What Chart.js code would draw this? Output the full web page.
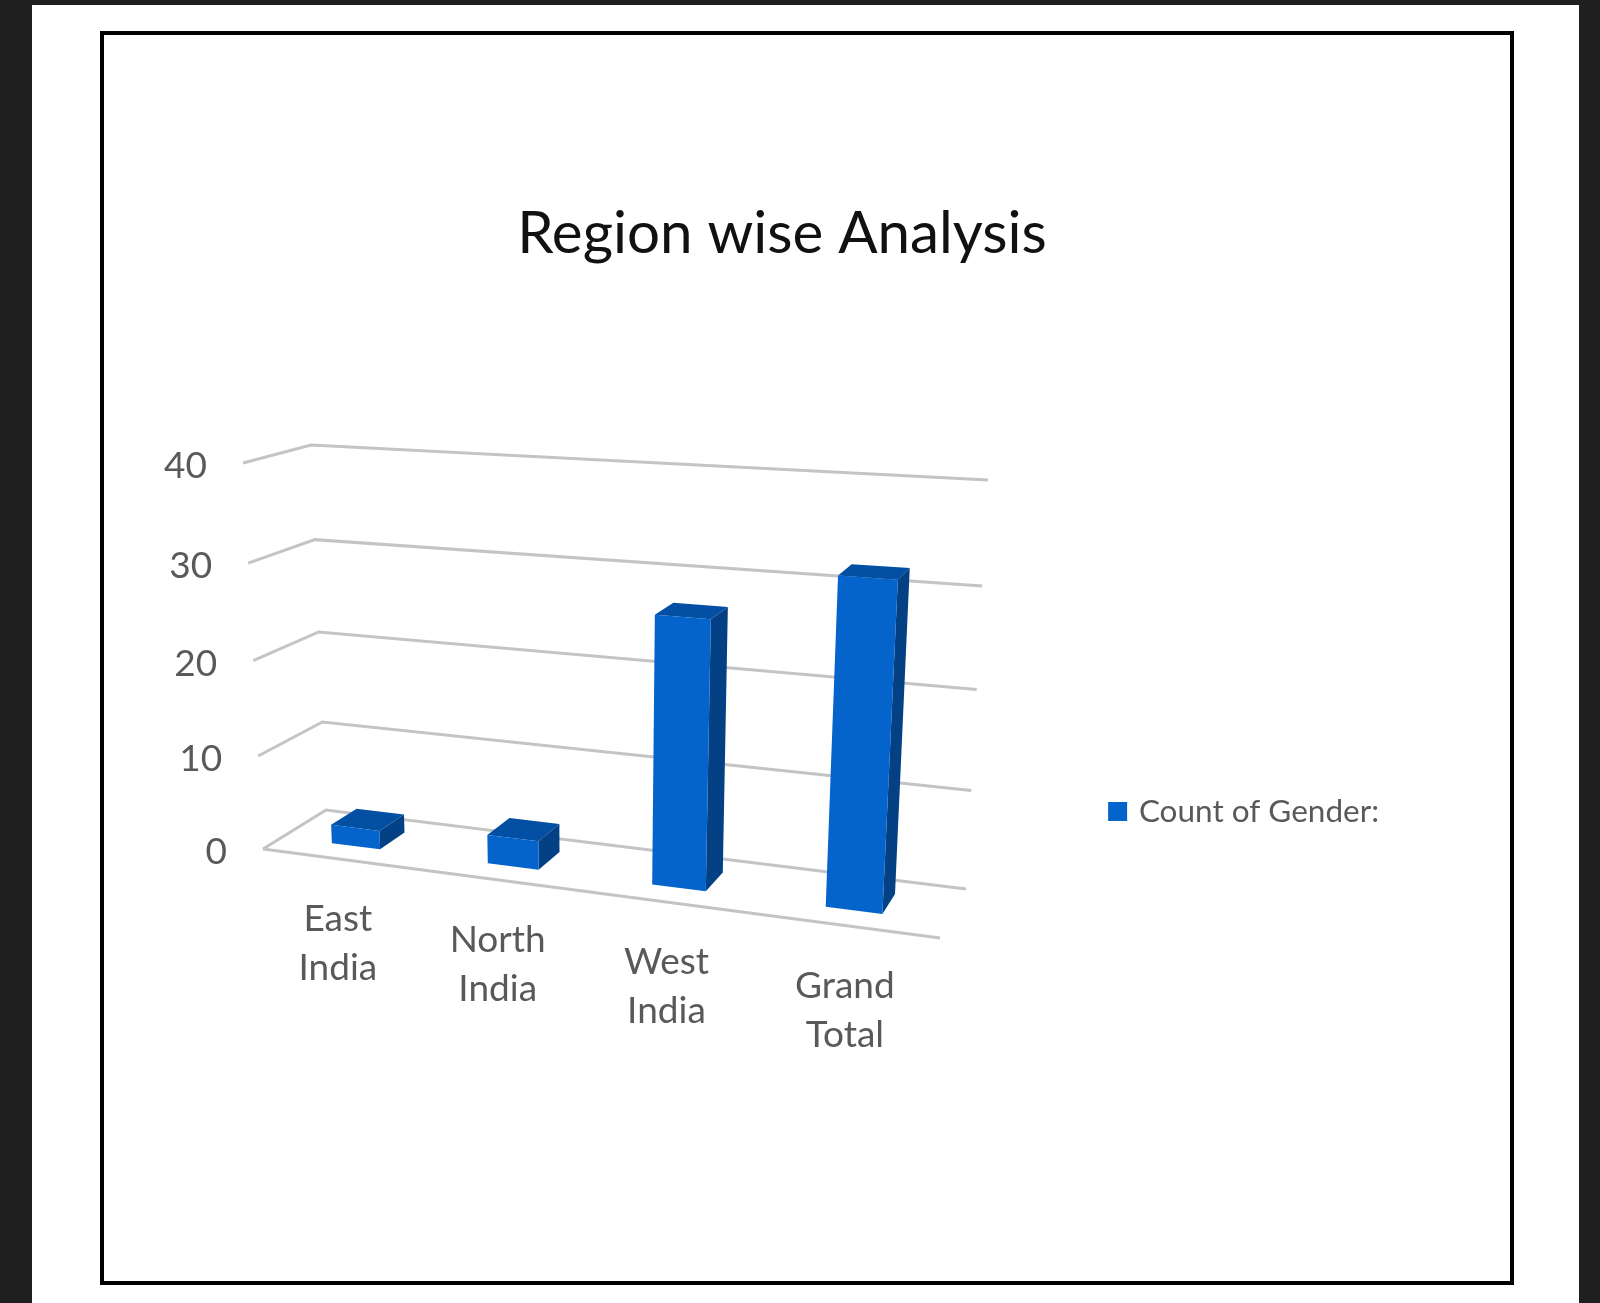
<!DOCTYPE html>
<html>
<head>
<meta charset="utf-8">
<title>Region wise Analysis</title>
<script src="https://cdn.jsdelivr.net/npm/chart.js@4"></script>
<style>
  html, body { margin: 0; height: 100%; background: #1f1f1f; overflow: hidden; }
  #page { position: absolute; left: 32px; top: 5px; width: 1547px; height: 1298px; background: #fff; }
  #frame { position: absolute; left: 100px; top: 31px; width: 1406px; height: 1246px; border: 4px solid #000; }
  canvas { position: absolute; left: 0; top: 0; }
</style>
</head>
<body>
<div id="page"></div>
<div id="frame"></div>
<canvas id="regionChart" width="1600" height="1303"></canvas>
<script>
const regions = [['East', 'India'], ['North', 'India'], ['West', 'India'], ['Grand', 'Total']];
const counts = [2, 3, 27, 32];
const yTicks = [0, 10, 20, 30, 40];
const seriesName = 'Count of Gender:';

// the 3d box the excel chart sits in: floor and top corners on screen
const floorQuad = [[263, 849], [940, 938], [966, 889], [326, 810]];
const topQuad = [[243, 463], [965, 503], [988, 480], [311, 445]];
const barDepth = [0.3, 0.72];
const barShift = -0.004;
const heightWarp = 0.05;

const frontColor = '#0563cc';
const sideColor = '#034084';
const topColor = '#024fa3';
const gridColor = '#c4c4c4';
const textColor = '#595959';
const fontName = 'Lato';

// unit square to quad, perspective
function squareToQuad(q) {
  const [p0, p1, p2, p3] = q;
  const dx1 = p1[0] - p2[0], dx2 = p3[0] - p2[0], sx = p0[0] - p1[0] + p2[0] - p3[0];
  const dy1 = p1[1] - p2[1], dy2 = p3[1] - p2[1], sy = p0[1] - p1[1] + p2[1] - p3[1];
  const det = dx1 * dy2 - dx2 * dy1;
  const g = (sx * dy2 - dx2 * sy) / det;
  const h = (dx1 * sy - sx * dy1) / det;
  const a = p1[0] - p0[0] + g * p1[0], b = p3[0] - p0[0] + h * p3[0];
  const d = p1[1] - p0[1] + g * p1[1], e = p3[1] - p0[1] + h * p3[1];
  return (u, w) => {
    const z = g * u + h * w + 1;
    return [(a * u + b * w + p0[0]) / z, (d * u + e * w + p0[1]) / z];
  };
}

const floorMap = squareToQuad(floorQuad);
const topMap = squareToQuad(topQuad);

// u along categories, w into the depth, f share of the y axis
function project(u, w, f) {
  const a = floorMap(u, w);
  const b = topMap(u, w);
  const t = f / (1 + heightWarp * (1 - f));
  return [a[0] + (b[0] - a[0]) * t, a[1] + (b[1] - a[1]) * t];
}

function face(ctx, color, points) {
  ctx.fillStyle = color;
  ctx.beginPath();
  points.forEach((p, i) => i ? ctx.lineTo(p[0], p[1]) : ctx.moveTo(p[0], p[1]));
  ctx.closePath();
  ctx.fill();
}

function line(ctx, points) {
  ctx.beginPath();
  points.forEach((p, i) => i ? ctx.lineTo(p[0], p[1]) : ctx.moveTo(p[0], p[1]));
  ctx.stroke();
}

const box3d = {
  id: 'box3d',
  beforeDatasetsDraw(chart) {
    const { ctx, chartArea, scales } = chart;
    ctx.save();
    ctx.strokeStyle = gridColor;
    ctx.lineWidth = 3;
    yTicks.forEach(tick => {
      const f = (chartArea.bottom - scales.y.getPixelForValue(tick)) / chartArea.height;
      line(ctx, [project(0, 0, f), project(0, 1, f), project(1, 1, f)]);
    });
    line(ctx, [project(0, 0, 0), project(1, 0, 0)]);

    ctx.font = '37px ' + fontName;
    ctx.fillStyle = textColor;
    ctx.textAlign = 'right';
    ctx.textBaseline = 'middle';
    yTicks.forEach(tick => {
      const f = (chartArea.bottom - scales.y.getPixelForValue(tick)) / chartArea.height;
      const p = project(0, 0, f);
      ctx.fillText(String(tick), p[0] - 36, p[1] + 3);
    });

    ctx.textAlign = 'center';
    regions.forEach((lines, i) => {
      const u = (scales.x.getPixelForValue(i) - chartArea.left) / chartArea.width;
      const p = project(u, 0, 0);
      lines.forEach((text, n) => ctx.fillText(text, p[0] - 2, p[1] + 60 + n * 49));
    });
    ctx.restore();
  },
  // bars get drawn here from the elements chart.js laid out
  beforeDatasetDraw(chart, args) {
    const { ctx, chartArea } = chart;
    ctx.save();
    args.meta.data.forEach(bar => {
      const u0 = (bar.x - bar.width / 2 - chartArea.left) / chartArea.width + barShift;
      const u1 = (bar.x + bar.width / 2 - chartArea.left) / chartArea.width + barShift;
      const f = (chartArea.bottom - bar.y) / chartArea.height;
      const [w0, w1] = barDepth;
      face(ctx, sideColor, [project(u1, w0, 0), project(u1, w1, 0), project(u1, w1, f), project(u1, w0, f)]);
      face(ctx, topColor, [project(u0, w0, f), project(u1, w0, f), project(u1, w1, f), project(u0, w1, f)]);
      face(ctx, frontColor, [project(u0, w0, 0), project(u1, w0, 0), project(u1, w0, f), project(u0, w0, f)]);
    });
    ctx.restore();
    return false;
  }
};

new Chart(document.getElementById('regionChart'), {
  type: 'bar',
  data: {
    labels: regions,
    datasets: [{ label: seriesName, data: counts, backgroundColor: frontColor }]
  },
  plugins: [box3d],
  options: {
    responsive: false,
    animation: false,
    devicePixelRatio: 1,
    layout: { padding: { left: 175, right: 211, top: 0, bottom: 85 } },
    barPercentage: 0.315,
    categoryPercentage: 1,
    scales: {
      x: { display: false },
      y: { display: false, min: 0, max: 40 }
    },
    plugins: {
      tooltip: { enabled: false },
      title: {
        display: true,
        text: 'Region wise Analysis',
        color: '#111111',
        font: { family: fontName, size: 58.3, weight: 'normal' },
        padding: { top: 199, bottom: 136 }
      },
      legend: {
        position: 'right',
        fullSize: false,
        labels: {
          color: textColor,
          usePointStyle: true,
          pointStyle: 'rect',
          boxWidth: 11,
          boxHeight: 19,
          font: { family: fontName, size: 31.5 }
        }
      }
    }
  }
});
</script>
</body>
</html>
